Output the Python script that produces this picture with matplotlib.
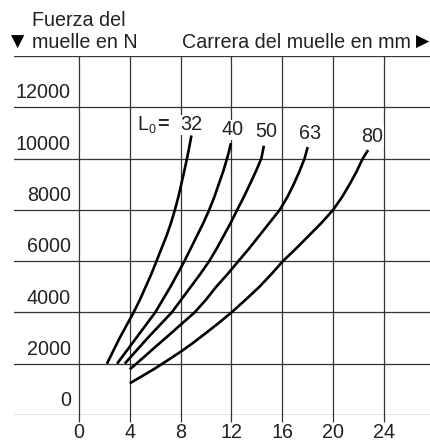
import matplotlib
matplotlib.use("Agg")
import matplotlib.pyplot as plt

# ---- data ----
x_ticks = [0, 4, 8, 12, 16, 20, 24]
y_ticks = [0, 2000, 4000, 6000, 8000, 10000, 12000, 14000]
y_tick_labels = ["0", "2000", "4000", "6000", "8000", "10000", "12000"]

lengths = ["32", "40", "50", "63", "80"]

x_32 = [2.2, 2.7, 3.2, 3.75, 4.3, 4.8, 5.25, 5.7, 6.1, 6.5, 6.9, 7.25, 7.55, 7.82, 8.05, 8.28, 8.5, 8.68, 8.85]
y_32 = [2000, 2500, 3000, 3500, 4000, 4500, 5000, 5500, 6000, 6500, 7000, 7500, 8000, 8500, 9000, 9500, 10000, 10450, 10900]

x_40 = [3.0, 3.75, 4.5, 5.25, 6.0, 6.6, 7.2, 7.75, 8.3, 8.8, 9.3, 9.8, 10.25, 10.65, 11.0, 11.35, 11.65, 11.82, 11.95]
y_40 = [2000, 2500, 3000, 3500, 4000, 4500, 5000, 5500, 6000, 6500, 7000, 7500, 8000, 8500, 9000, 9500, 10000, 10300, 10600]

x_50 = [3.6, 4.5, 5.4, 6.35, 7.3, 8.05, 8.8, 9.55, 10.25, 10.85, 11.4, 11.95, 12.45, 12.97, 13.45, 13.92, 14.35, 14.45, 14.55]
y_50 = [2000, 2500, 3000, 3500, 4000, 4500, 5000, 5500, 6000, 6500, 7000, 7500, 8000, 8500, 9000, 9500, 10000, 10250, 10500]

x_63 = [4.0, 5.0, 6.0, 7.0, 8.0, 9.1, 10.0, 10.8, 11.7, 12.55, 13.4, 14.2, 15.0, 15.8, 16.4, 16.9, 17.35, 17.75, 18.0]
y_63 = [1780, 2210, 2650, 3080, 3520, 4000, 4500, 5000, 5500, 6000, 6500, 7000, 7500, 8000, 8500, 9000, 9500, 10000, 10450]

x_80 = [4.0, 5.0, 6.0, 7.0, 8.0, 9.0, 10.0, 11.0, 12.0, 13.1, 14.2, 15.15, 16.05, 17.1, 18.1, 19.1, 20.0, 20.7, 21.3, 21.85, 22.33, 22.75]
y_80 = [1235, 1525, 1820, 2140, 2466, 2820, 3200, 3590, 4000, 4490, 5000, 5500, 6000, 6500, 7000, 7500, 8000, 8500, 9000, 9500, 10000, 10330]

curves = [(x_32, y_32), (x_40, y_40), (x_50, y_50), (x_63, y_63), (x_80, y_80)]
label_pos = [(8.81, 11310), (12.06, 11115), (14.72, 11050), (18.18, 10985), (23.1, 10880)]

# ---- figure ----
W, H = 431, 441
fig = plt.figure(figsize=(W / 100, H / 100), dpi=100)
ax = fig.add_axes([14 / W, (H - 415) / H, (431 - 14) / W, (415 - 56) / H])
ax.set_xlim(-5.11, 27.7)
ax.set_ylim(0, 14000)
for s in ax.spines.values():
    s.set_visible(False)
ax.set_xticks([])
ax.set_yticks([])

FONT = "Liberation Sans"
FS = 14.2
TXT = "#222222"
GRID = "#333333"

for yv in y_ticks:
    ax.axhline(yv, color=GRID, lw=0.9, zorder=1)
for xv in x_ticks:
    ax.plot([xv, xv], [-290, 14000], color=GRID, lw=0.9, zorder=1, clip_on=False,
            solid_capstyle="butt")

for xs, ys in curves:
    ax.plot(xs, ys, color="black", lw=1.9, zorder=3, solid_capstyle="butt",
            solid_joinstyle="round")

# y tick labels (above the gridlines)
for yv, lab in zip(y_ticks, y_tick_labels):
    ax.text(-0.63, yv + 560, lab, ha="right", va="center", fontsize=FS,
            family=FONT, color=TXT)
# x tick labels
for xv in x_ticks:
    ax.text(xv, -680, str(xv), ha="center", va="center", fontsize=FS,
            family=FONT, color=TXT, clip_on=False)

# curve labels (white background hides the gridlines behind them)
bb = dict(facecolor="white", edgecolor="none", pad=0.5)
for lab, (lx, ly) in zip(lengths, label_pos):
    ax.text(lx, ly, lab, ha="center", va="center", fontsize=FS, family=FONT,
            color=TXT, zorder=4, bbox=bb)
ax.text(5.0, 11310, "L", ha="center", va="center", fontsize=FS, family=FONT,
        color=TXT, zorder=4)
ax.text(5.78, 11130, "0", ha="center", va="center", fontsize=9, family=FONT,
        color=TXT, zorder=4)
ax.text(6.6, 11310, "=", ha="center", va="center", fontsize=FS, family=FONT,
        color=TXT, fontweight="bold", zorder=4)

# headers
fig.text(32 / W, 1 - 20 / H, "Fuerza del", ha="left", va="center", fontsize=FS,
         family=FONT, color=TXT)
fig.text(32 / W, 1 - 43 / H, "muelle en N", ha="left", va="center", fontsize=FS,
         family=FONT, color=TXT)
fig.text(18 / W, 1 - 42 / H, "\u25BC", ha="center", va="center", fontsize=12.5,
         family="DejaVu Sans", color="black")
fig.text(411 / W, 1 - 43 / H, "Carrera del muelle en mm", ha="right", va="center",
         fontsize=FS, family=FONT, color=TXT)
fig.text(423 / W, 1 - 42 / H, "\u25B6", ha="center", va="center", fontsize=12.5,
         family="DejaVu Sans", color="black")

fig.savefig("out.png", dpi=100)
